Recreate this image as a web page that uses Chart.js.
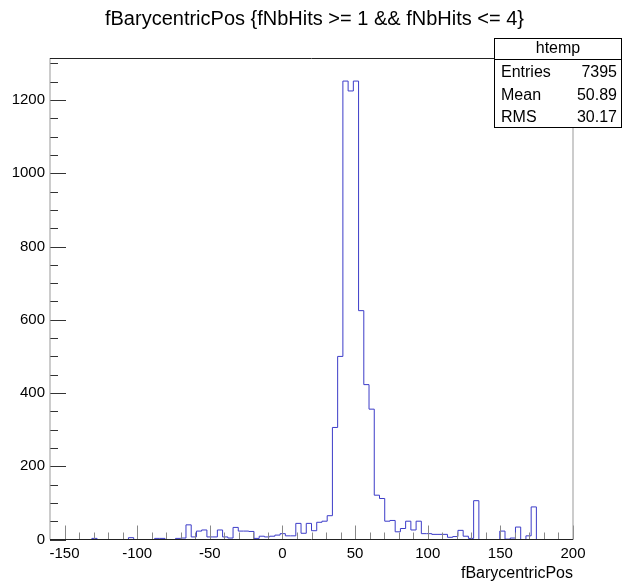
<!DOCTYPE html>
<html>
<head>
<meta charset="utf-8">
<script src="https://cdn.jsdelivr.net/npm/chart.js@4"></script>
<style>
  html, body { margin: 0; padding: 0; background: #fff; }
  #wrap { width: 629px; height: 585px; }
</style>
</head>
<body>
<div id="wrap"><canvas id="hist"></canvas></div>
<script>
// histogram htemp: 100 bins from -160 to 200
var binLow = -160;
var binHigh = 200;
var binCounts = [
  0, 0, 0, 0, 0, 0, 0, 0, 3, 0,
  0, 0, 0, 0, 0, 5, 0, 0, 0, 0,
  3, 3, 0, 0, 3, 4, 40, 7, 23, 26,
  7, 7, 26, 7, 4, 33, 23, 23, 22, 3,
  9, 7, 9, 12, 16, 10, 10, 44, 17, 44,
  24, 47, 50, 65, 306, 500, 1252, 1225, 1252, 625,
  423, 356, 121, 112, 50, 52, 21, 30, 50, 26,
  50, 16, 16, 14, 14, 14, 6, 8, 25, 9,
  3, 106, 0, 0, 0, 0, 23, 1, 4, 34,
  0, 10, 89, 0, 0, 0, 0, 0, 0, 0
];
var yMax = 1315;
var xTicks = [-150, -100, -50, 0, 50, 100, 150, 200];
var yTicks = [0, 200, 400, 600, 800, 1000, 1200];
var stats = [['Entries', '7395'], ['Mean', '50.89'], ['RMS', '30.17']];

var binWidth = (binHigh - binLow) / binCounts.length;
var points = binCounts.map(function(c, i) { return { x: binLow + i * binWidth, y: c }; });
points.push({ x: binHigh, y: 0 });

var FONT = "'Liberation Sans', Arial, sans-serif";

// ROOT-like frame, inside ticks and stats box
var rootFrame = {
  id: 'rootFrame',
  afterDraw: function(chart) {
    var ctx = chart.ctx;
    var a = chart.chartArea;
    var xs = chart.scales.x, ys = chart.scales.y;
    ctx.save();
    ctx.lineWidth = 1;

    // x ticks
    ctx.strokeStyle = '#888';
    for (var v = -150; v <= binHigh; v += 10) {
      var px = Math.round(xs.getPixelForValue(v)) + 0.5;
      var len = (v % 50 === 0) ? 14 : 7;
      ctx.beginPath(); ctx.moveTo(px, a.bottom); ctx.lineTo(px, a.bottom - len); ctx.stroke();
    }
    // y ticks
    ctx.strokeStyle = '#333';
    for (var w = 0; w <= yMax; w += 50) {
      var py = Math.round(ys.getPixelForValue(w)) + 0.5;
      var l2 = (w % 200 === 0) ? 16 : 8;
      ctx.beginPath(); ctx.moveTo(a.left, py); ctx.lineTo(a.left + l2, py); ctx.stroke();
    }

    // frame
    ctx.strokeStyle = '#999';
    ctx.beginPath(); ctx.moveTo(a.left, a.top); ctx.lineTo(a.left, a.bottom); ctx.stroke();
    ctx.beginPath(); ctx.moveTo(a.right, a.top); ctx.lineTo(a.right, a.bottom); ctx.stroke();
    ctx.strokeStyle = '#222';
    ctx.beginPath(); ctx.moveTo(a.left, a.bottom); ctx.lineTo(a.right, a.bottom); ctx.stroke();
    ctx.beginPath(); ctx.moveTo(a.left, a.top + 0.5); ctx.lineTo(a.right, a.top + 0.5); ctx.stroke();

    // stats box
    var bx = 494.5, by = 38.5, bw = 127, bh = 89;
    ctx.fillStyle = '#fff';
    ctx.fillRect(bx, by, bw, bh);
    ctx.strokeStyle = '#000';
    ctx.strokeRect(bx, by, bw, bh);
    ctx.beginPath(); ctx.moveTo(bx, 59.5); ctx.lineTo(bx + bw, 59.5); ctx.stroke();

    ctx.fillStyle = '#000';
    ctx.font = '16px ' + FONT;
    ctx.textBaseline = 'middle';
    ctx.textAlign = 'center';
    ctx.fillText('htemp', bx + bw / 2, 49);
    var rowY = [73, 96, 118];
    stats.forEach(function(s, i) {
      ctx.textAlign = 'left';
      ctx.fillText(s[0], 501, rowY[i]);
      ctx.textAlign = 'right';
      ctx.fillText(s[1], 617, rowY[i]);
    });
    ctx.restore();
  }
};

new Chart(document.getElementById('hist'), {
  type: 'line',
  data: {
    datasets: [{
      data: points,
      stepped: true,
      borderColor: '#3c3cc8',
      borderWidth: 1,
      pointRadius: 0,
      fill: false
    }]
  },
  options: {
    responsive: true,
    maintainAspectRatio: false,
    animation: false,
    layout: { padding: 0 },
    plugins: {
      legend: { display: false },
      tooltip: { enabled: false },
      title: {
        display: true,
        text: 'fBarycentricPos {fNbHits >= 1 && fNbHits <= 4}',
        color: '#000',
        font: { family: FONT, size: 20, weight: 'normal' },
        padding: { top: 7, bottom: 27 }
      }
    },
    scales: {
      x: {
        type: 'linear',
        min: binLow,
        max: binHigh,
        grid: { display: false, drawTicks: false },
        border: { display: false },
        afterBuildTicks: function(s) { s.ticks = xTicks.map(function(v) { return { value: v }; }); },
        afterFit: function(s) { s.height = 45.5; },
        ticks: {
          color: '#000',
          font: { family: FONT, size: 15 },
          padding: 5,
          maxRotation: 0,
          autoSkip: false
        },
        title: {
          display: true,
          text: 'fBarycentricPos',
          align: 'end',
          color: '#000',
          font: { family: FONT, size: 16 },
          padding: { top: 0, bottom: 2 }
        }
      },
      y: {
        min: 0,
        max: yMax,
        grid: { display: false, drawTicks: false },
        border: { display: false },
        afterBuildTicks: function(s) { s.ticks = yTicks.map(function(v) { return { value: v }; }); },
        afterFit: function(s) { s.width = 50; },
        ticks: {
          color: '#000',
          font: { family: FONT, size: 15 },
          padding: 5,
          callback: function(v) { return String(v); }
        }
      },
      yR: {
        type: 'linear',
        position: 'right',
        grid: { display: false, drawTicks: false },
        border: { display: false },
        ticks: { display: false },
        afterFit: function(s) { s.width = 56; }
      }
    }
  },
  plugins: [rootFrame]
});
</script>
</body>
</html>
